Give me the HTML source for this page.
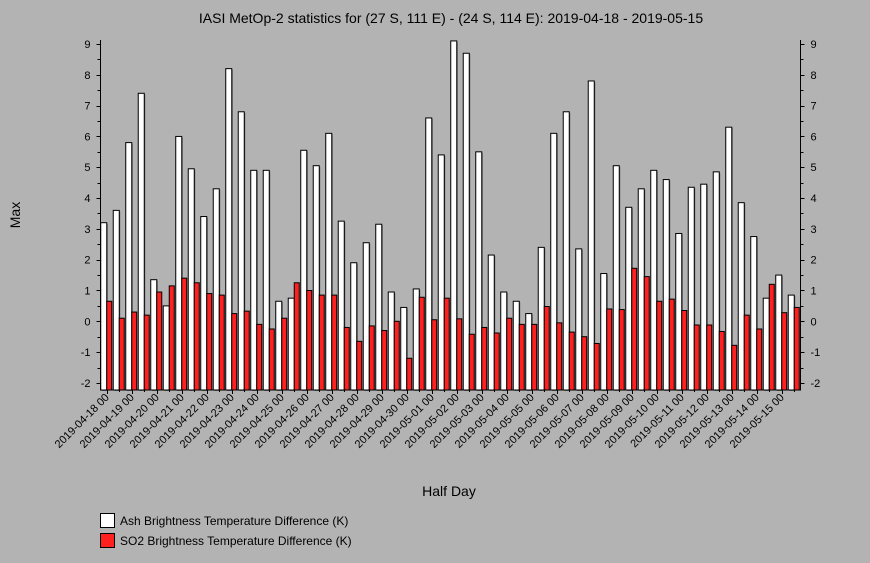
<!DOCTYPE html>
<html><head><meta charset="utf-8"><style>
body{margin:0;background:#b3b3b3;}
svg{display:block;font-family:"Liberation Sans",sans-serif;}
</style></head><body>
<svg id="chart" width="870" height="563">
<rect width="870" height="563" fill="#b3b3b3"/>
<text x="451" y="23" font-size="14" text-anchor="middle">IASI MetOp-2 statistics for (27 S, 111 E) - (24 S, 114 E): 2019-04-18 - 2019-05-15</text>
<text x="20" y="215" font-size="14" text-anchor="middle" transform="rotate(-90 20 215)">Max</text>
<text x="449" y="496" font-size="14" text-anchor="middle">Half Day</text>
<g id="plot"></g>
<g>
<g><rect x="100.5" y="513.5" width="14" height="14" fill="#fff" stroke="#000"/><text x="120" y="525" font-size="12">Ash Brightness Temperature Difference (K)</text></g>
<g><rect x="100.5" y="533.5" width="14" height="14" fill="#ff2020" stroke="#000"/><text x="120" y="545" font-size="12">SO2 Brightness Temperature Difference (K)</text></g>
</g>
</svg>
<script>
const dates=["2019-04-18","2019-04-19","2019-04-20","2019-04-21","2019-04-22","2019-04-23","2019-04-24","2019-04-25","2019-04-26","2019-04-27","2019-04-28","2019-04-29","2019-04-30","2019-05-01","2019-05-02","2019-05-03","2019-05-04","2019-05-05","2019-05-06","2019-05-07","2019-05-08","2019-05-09","2019-05-10","2019-05-11","2019-05-12","2019-05-13","2019-05-14","2019-05-15"];
const ashValues=[3.2,3.6,5.8,7.4,1.35,0.5,6.0,4.95,3.4,4.3,8.2,6.8,4.9,4.9,0.65,0.75,5.55,5.05,6.1,3.25,1.9,2.55,3.15,0.95,0.45,1.05,6.6,5.4,9.1,8.7,5.5,2.15,0.95,0.65,0.25,2.4,6.1,6.8,2.35,7.8,1.55,5.05,3.7,4.3,4.9,4.6,2.85,4.35,4.45,4.85,6.3,3.85,2.75,0.75,1.5,0.85];
const so2Values=[0.65,0.1,0.3,0.2,0.95,1.15,1.4,1.25,0.9,0.85,0.25,0.33,-0.1,-0.25,0.1,1.25,1.0,0.85,0.85,-0.2,-0.65,-0.15,-0.3,0.0,-1.2,0.78,0.05,0.75,0.08,-0.42,-0.2,-0.38,0.1,-0.1,-0.1,0.48,-0.05,-0.35,-0.5,-0.72,0.4,0.38,1.72,1.45,0.65,0.72,0.35,-0.12,-0.12,-0.33,-0.78,0.2,-0.25,1.2,0.28,0.45];
const yTicks=[-2,-1,0,1,2,3,4,5,6,7,8,9];
const yMin=-2.23,yMax=9.13,L=100.5,R=800.5,T=40,B=390;
const NS='http://www.w3.org/2000/svg';
const g=document.getElementById('plot');
const n=ashValues.length,bw=(R-L)/n;
function y(v){return B-(v-yMin)/(yMax-yMin)*(B-T);}
function xc(i){return L+bw*(i+0.5);}
function mk(t,a){const e=document.createElementNS(NS,t);for(const k in a)e.setAttribute(k,a[k]);g.appendChild(e);return e;}
for(let i=0;i<n;i++){
  const c=xc(i);
  let b=mk('rect',{x:c-6+1,y:y(ashValues[i])+1,width:6,height:B-y(ashValues[i]),fill:'#666'});
  
  
  b=mk('rect',{x:c-6,y:y(ashValues[i]),width:6,height:B-y(ashValues[i]),fill:'#fff',stroke:'#000','stroke-width':1});
  
  
  b=mk('rect',{x:c,y:y(so2Values[i]),width:5,height:B-y(so2Values[i]),fill:'#ff2020',stroke:'#000','stroke-width':1});
  
  
}
let ax=mk('path',{d:`M${L} ${T}V${B}H${R}V${T}`,fill:'none',stroke:'#000'});


for(let v=-2;v<=9.01;v+=0.5){
  const yy=Math.round(y(v))+0.5,maj=Math.abs(v-Math.round(v))<0.01;
  const t=mk('path',{d:`M${L-(maj?4:3)} ${yy}H${L}M${R} ${yy}H${R+(maj?4:3)}`,stroke:'#000'});
  
  
}
yTicks.forEach(v=>{
  let t=mk('text',{x:L-10,y:y(v)+4,'font-size':11,'text-anchor':'end'});t.textContent=v;
  
  
  t=mk('text',{x:R+10,y:y(v)+4,'font-size':11});t.textContent=v;
  
  
});
for(let i=0;i<n;i++){
  const c=Math.round(xc(i))+0.5;
  const t=mk('path',{d:`M${c} ${B}v${i%2==0?4:2}`,stroke:'#000'});
  
  
}
dates.forEach((d,k)=>{
  const c=xc(k*2)+3,yy=B+8;
  const t=mk('text',{x:c,y:yy,'font-size':11,'text-anchor':'end',transform:`rotate(-45 ${c} ${yy})`});
  t.textContent=d+' 00';
  
  
});
</script>
</body></html>
